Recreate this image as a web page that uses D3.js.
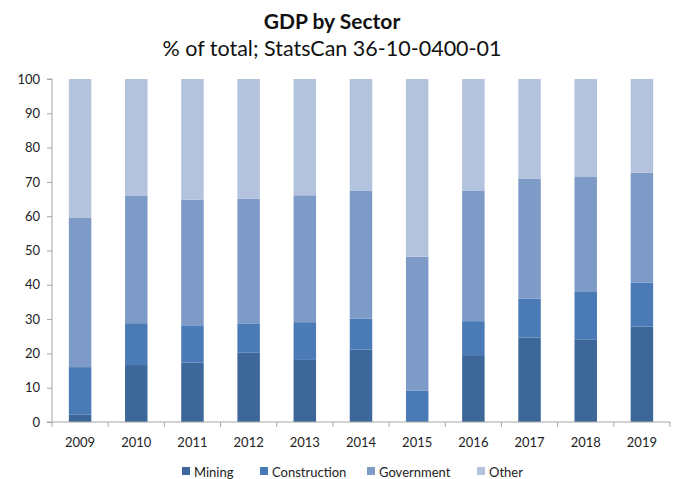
<!DOCTYPE html>
<html><head><meta charset="utf-8">
<script src="https://cdn.jsdelivr.net/npm/d3@7"></script>
<style>body{margin:0;background:#fff;}svg{display:block;font-family:Lato,"Open Sans",sans-serif;}</style>
</head><body>
<svg id="c" width="678" height="479"></svg>
<script>
const years = ["2009","2010","2011","2012","2013","2014","2015","2016","2017","2018","2019"];
const mining = [2.1,16.6,17.3,20.3,18.1,21.1,0,19.5,24.6,24.1,27.8];
const construction = [13.9,12.2,10.7,8.3,11.0,9.0,9.1,9.9,11.4,13.8,12.8];
const government = [43.5,37.1,36.8,36.5,37.0,37.4,39.1,38.1,35.0,33.7,32.1];
const other = [40.5,34.1,35.2,34.9,33.9,32.5,51.8,32.5,29.0,28.4,27.3];
const seriesNames = ["Mining","Construction","Government","Other"];
const colors = ["#3d6699","#4a7bb7","#7e9bc8","#b3c3dd"];
const yTicks = [0,10,20,30,40,50,60,70,80,90,100];

const svg = d3.select("#c");
const m = {l:52, r:8, t:79, b:57};
const x = d3.scaleBand().domain(years).range([m.l, 670]).paddingInner(0.6).paddingOuter(0.3);
const y = d3.scaleLinear().domain([0,100]).range([422, 79]);

const rows = years.map((yr,i)=>({year:yr, Mining:mining[i], Construction:construction[i], Government:government[i], Other:other[i]}));
const stack = d3.stack().keys(seriesNames)(rows);

svg.append("text").attr("x",332).attr("y",29).attr("text-anchor","middle")
  .attr("font-size",21).attr("font-weight","bold").attr("fill","#111").text("GDP by Sector");
svg.append("text").attr("x",332).attr("y",56).attr("text-anchor","middle")
  .attr("font-size",21.5).attr("fill","#111").text("% of total; StatsCan 36-10-0400-01");

svg.selectAll("g.s").data(stack).join("g").attr("fill",(d,i)=>colors[i])
  .selectAll("rect").data(d=>d).join("rect")
  .attr("x",d=>x(d.data.year)).attr("width",x.bandwidth())
  .attr("y",d=>y(d[1])).attr("height",d=>Math.max(0,y(d[0])-y(d[1])));

// y axis
const ya = svg.append("g").attr("transform",`translate(${m.l},0)`)
  .call(d3.axisLeft(y).tickValues(yTicks).tickSize(5).tickPadding(7));
ya.selectAll("path,line").attr("stroke","#a6a6a6");
ya.selectAll("text").attr("font-size",13).attr("fill","#222").attr("font-family","Lato,'Open Sans',sans-serif");
ya.select(".domain").attr("d",`M-5,${y(0)}H0V${y(100)}H-5`);

// x axis
const xa = svg.append("g").attr("transform",`translate(0,${y(0)})`);
xa.append("line").attr("x1",m.l).attr("x2",670).attr("y1",0).attr("y2",0).attr("stroke","#a6a6a6");
const bounds = d3.range(years.length+1).map(i=>m.l + i*(670-m.l)/years.length);
xa.selectAll("line.t").data(bounds).join("line").attr("class","t")
  .attr("x1",d=>d).attr("x2",d=>d).attr("y1",0).attr("y2",5).attr("stroke","#a6a6a6");
xa.selectAll("text").data(years).join("text")
  .attr("x",d=>x(d)+x.bandwidth()/2).attr("y",25).attr("text-anchor","middle")
  .attr("font-size",13).attr("fill","#222").text(d=>d);

// legend
const legX = [182,260,367,477];
const lg = svg.append("g");
seriesNames.forEach((s,i)=>{
  lg.append("rect").attr("x",legX[i]).attr("y",467).attr("width",8).attr("height",8).attr("fill",colors[i]);
  lg.append("text").attr("x",legX[i]+12).attr("y",477).attr("font-size",13).attr("fill","#222").text(s);
});
</script>
</body></html>
